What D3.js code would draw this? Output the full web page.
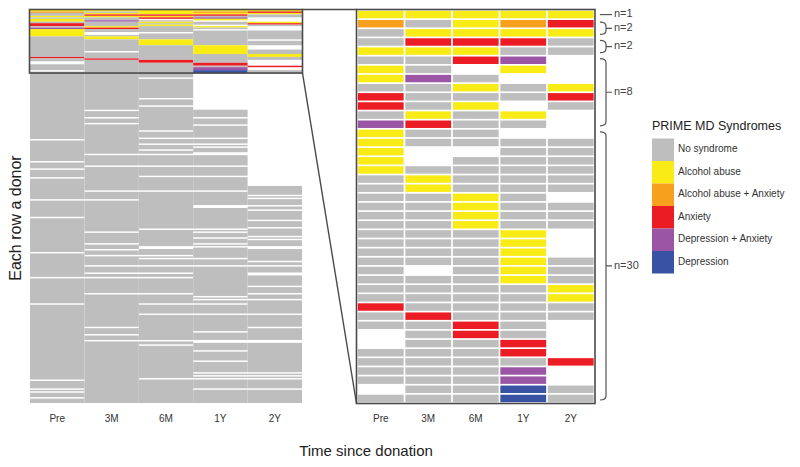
<!DOCTYPE html>
<html><head><meta charset="utf-8">
<script src="https://cdn.jsdelivr.net/npm/d3@7"></script>
<style>body{margin:0;background:#fff} svg{display:block;font-family:"Liberation Sans",Arial,sans-serif}</style>
</head><body><svg id="c" width="800" height="467"></svg>
<script>
// ---- data ----
const times = ["Pre", "3M", "6M", "1Y", "2Y"];
const categories = ["No syndrome", "Alcohol abuse", "Alcohol abuse + Anxiety", "Anxiety", "Depression + Anxiety", "Depression"];
const codes = ["G", "Y", "O", "R", "P", "B"];           // W = no assessment (blank)
const colors = ["#bebebe", "#f9eb16", "#f7a01e", "#ec1c24", "#9b55a5", "#3a52a3"];

// the 43 donors with a syndrome at any time (zoomed panel), one letter per donor
const zoomPre = "YOGGYGYYGRRGPYYYYYGGGGGGGGGGGGGGRGGWWGGGGWG";
const zoom3M  = "YGYRYGGPGGGYRGGWWGYYGGGGGGGGWGGGGRGGGGGGGGG";
const zoom6M  = "YYYRYRWGYGYGGGGWGGGGYYYYGGGGGGGGGGRRGGGGGGG";
const zoom1Y  = "YOYRGPYWGGWYGWGGGGGGGGGGYYYYYYGGGGGGRRGPPBB";
const zoom2Y  = "YRYGGWWWYRGWWWGGGGGGWGGGWWWGGGYYGGWWWWRWWGG";

// all other donors: no syndrome, except blank (missing) rows listed here
const totalDonors = 268;
const missPre = [88,103,108,114,129,141,165,182,200,252,258,260,264];
const miss3M  = [68,73,77,98,106,123,129,151,159,163,167,174,179,182,193,216,221,225];
const miss6M  = [46,60,65,82,87,91,95,98,106,113,123,149,161,162,167,169,174,179,182,193,200,207,225,228,251];
const miss1Y  = [[43,67],73,78,87,91,93,97,98,106,113,123,133,134,149,151,155,159,161,169,174,195,197,200,207,219,225,226,232,239,247,249,251,258];
const miss2Y  = [[43,119],126,128,133,136,143,148,154,156,161,162,171,174,179,180,188,193,197,207,216,225,226,247,249,251,258];

const groupSizes  = [1, 2, 2, 8, 30];
const groupLabels = ["n=1", "n=2", "n=2", "n=8", "n=30"];

// ---- build table ----
const zoomCols = [zoomPre, zoom3M, zoom6M, zoom1Y, zoom2Y];
const missCols = [missPre, miss3M, miss6M, miss1Y, miss2Y];
const nZoom = zoomPre.length;
const table = times.map((t, ci) => {
  const col = [];
  const miss = new Set();
  missCols[ci].forEach(m => { if (Array.isArray(m)) { for (let r = m[0]; r <= m[1]; r++) miss.add(r); } else miss.add(m); });
  for (let r = 0; r < totalDonors; r++) {
    col.push(r < nZoom ? zoomCols[ci][r] : (miss.has(r) ? "W" : "G"));
  }
  return col;
});

const color = d3.scaleOrdinal(codes, colors).unknown("#ffffff");
const svg = d3.select("#c");
const frameCol = "#4a4a4a";

// ---- left panel (all donors) ----
const xL = d3.scaleBand(times, [30, 302]);
const yL = d3.scaleBand(d3.range(totalDonors), [10, 403]);
const left = svg.append("g");
times.forEach((t, ci) => {
  const col = table[ci];
  const runs = [];
  let s = 0;
  for (let r = 1; r <= col.length; r++) {
    if (r === col.length || col[r] !== col[s]) { runs.push({ s, e: r - 1, c: col[s] }); s = r; }
  }
  left.selectAll(null).data(runs.filter(d => d.c !== "W")).join("rect")
    .attr("x", xL(t)).attr("width", xL.bandwidth())
    .attr("y", d => yL(d.s)).attr("height", d => yL(d.e) + yL.bandwidth() - yL(d.s))
    .attr("fill", d => color(d.c));
});
const boxBottom = yL(nZoom - 1) + yL.bandwidth();
svg.append("rect").attr("x", 29.5).attr("y", 9.5).attr("width", 273).attr("height", boxBottom - 9.5)
  .attr("fill", "none").attr("stroke", frameCol).attr("stroke-width", 1.6);

// ---- right panel (zoom) ----
const xR = d3.scaleBand(times, [357, 594.5]);
const yR = d3.scaleBand(d3.range(nZoom), [10, 403]);
const cells = [];
times.forEach((t, ci) => { for (let r = 0; r < nZoom; r++) cells.push({ t, r, c: table[ci][r] }); });
const ins = 0.85;
svg.append("g").selectAll("rect").data(cells).join("rect")
  .attr("x", d => xR(d.t) + ins).attr("width", xR.bandwidth() - 2 * ins)
  .attr("y", d => yR(d.r) + ins).attr("height", yR.bandwidth() - 2 * ins)
  .attr("fill", d => color(d.c));
svg.append("rect").attr("x", 356.5).attr("y", 9.5).attr("width", 238.5).attr("height", 394)
  .attr("fill", "none").attr("stroke", frameCol).attr("stroke-width", 1.6);

// connector lines
svg.append("line").attr("x1", 302.5).attr("y1", 9.5).attr("x2", 356.5).attr("y2", 9.5)
  .attr("stroke", frameCol).attr("stroke-width", 1.4);
svg.append("line").attr("x1", 302.5).attr("y1", boxBottom).attr("x2", 356.5).attr("y2", 403.5)
  .attr("stroke", frameCol).attr("stroke-width", 1.4);

// ---- axes ----
[[xL], [xR]].forEach(([x]) => {
  const g = svg.append("g").attr("transform", "translate(0,403)")
    .call(d3.axisBottom(x).tickSize(0).tickPadding(12));
  g.select(".domain").remove();
  g.selectAll("text").attr("font-size", 10).attr("fill", "#333").attr("font-family", "Liberation Sans, Arial, sans-serif");
});
svg.append("text").attr("x", 366).attr("y", 452).attr("text-anchor", "middle").attr("dominant-baseline", "middle")
  .attr("font-size", 15).attr("fill", "#222").text("Time since donation");
svg.append("text").attr("transform", "translate(17,218) rotate(-90)").attr("text-anchor", "middle")
  .attr("dominant-baseline", "middle").attr("font-size", 16).attr("fill", "#222").text("Each row a donor");

// ---- group brackets ----
let start = 0;
const bx0 = 600, bx1 = 606, bx2 = 612;
groupSizes.forEach((n, i) => {
  const y0 = yR(start), y1 = yR(start + n - 1) + yR.bandwidth();
  const ym = (y0 + y1) / 2;
  const g = svg.append("g").attr("fill", "none").attr("stroke", "#555").attr("stroke-width", 1.2);
  if (n === 1) {
    g.append("path").attr("d", `M${bx0},${ym}L${bx2},${ym}`);
  } else {
    const a = y0 + 3, b = y1 - 3, rr = Math.min(4, (b - a) / 3);
    g.append("path").attr("d",
      `M${bx0},${a}Q${bx1},${a} ${bx1},${a + rr}L${bx1},${b - rr}Q${bx1},${b} ${bx0},${b}M${bx1},${ym}L${bx2},${ym}`);
  }
  svg.append("text").attr("x", bx2 + 2).attr("y", ym).attr("dominant-baseline", "middle")
    .attr("font-size", 11).attr("fill", "#444").text(groupLabels[i]);
  start += n;
});

// ---- legend ----
const lg = svg.append("g").attr("transform", "translate(652,0)");
lg.append("text").attr("x", 0).attr("y", 127).attr("dominant-baseline", "middle")
  .attr("font-size", 12.5).attr("fill", "#222").text("PRIME MD Syndromes");
const ly = d3.scaleBand(categories, [138.5, 273.5]);
lg.selectAll("rect").data(categories).join("rect")
  .attr("x", 0).attr("width", 22).attr("y", d => ly(d)).attr("height", ly.bandwidth())
  .attr("fill", (d, i) => colors[i]);
lg.selectAll("text.l").data(categories).join("text").attr("class", "l")
  .attr("x", 26).attr("y", d => ly(d) + ly.bandwidth() / 2).attr("dominant-baseline", "middle")
  .attr("font-size", 10).attr("fill", "#333").text(d => d);
</script></body></html>
